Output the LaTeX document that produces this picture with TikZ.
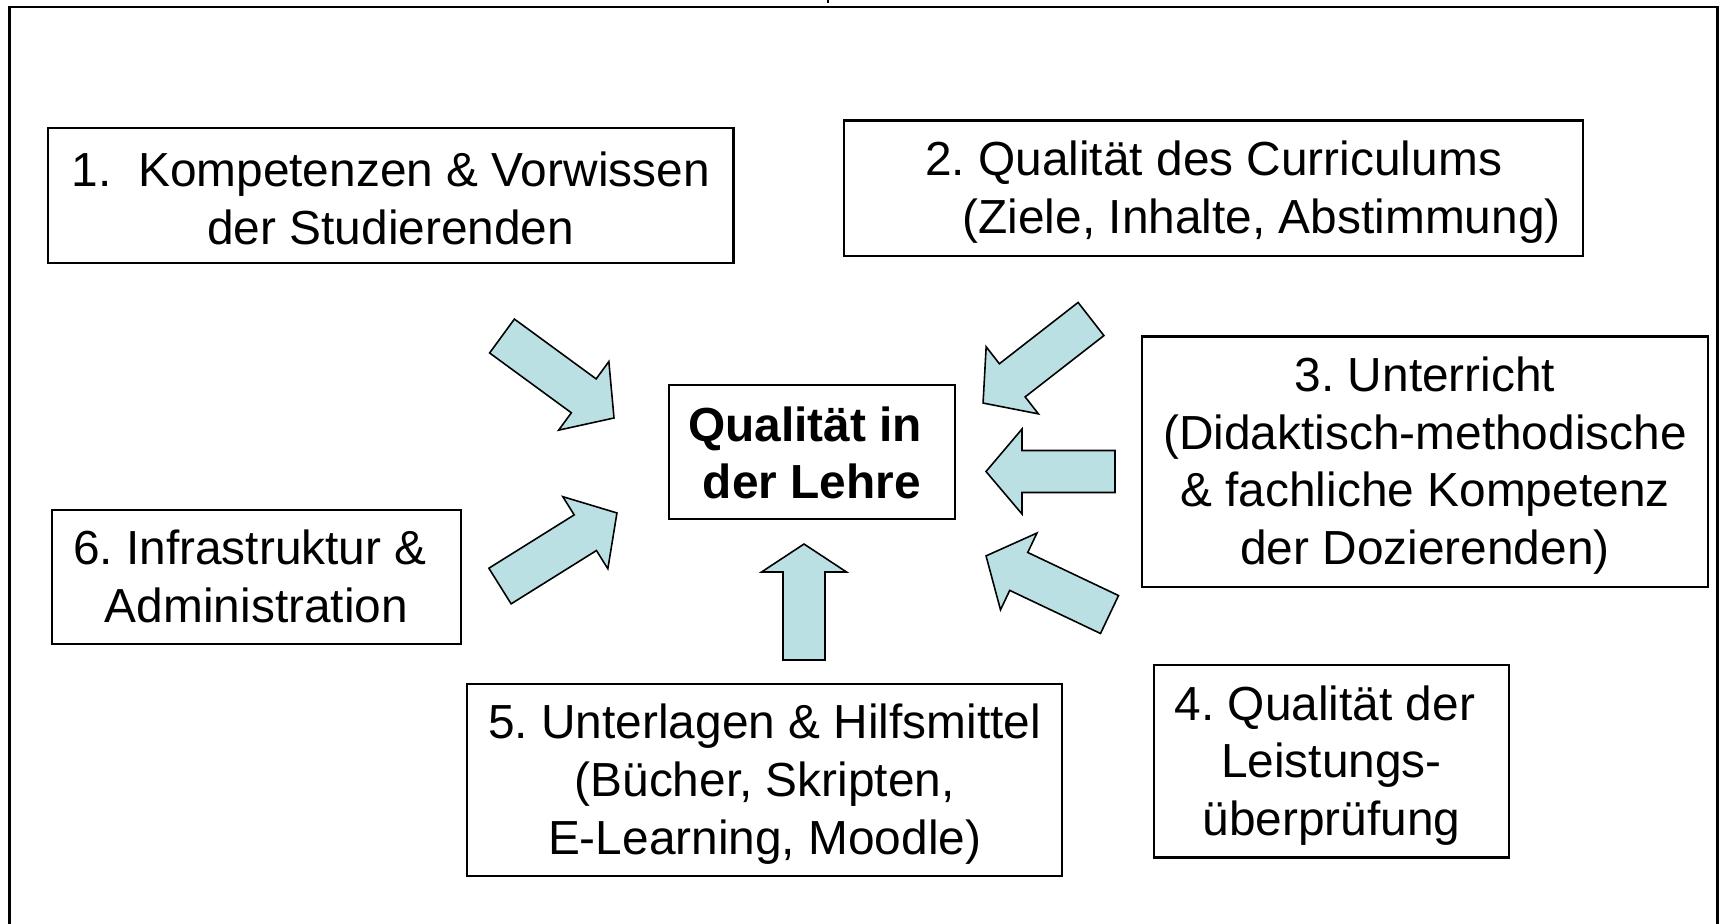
\documentclass[tikz,border=0pt]{standalone}
\usepackage{fontspec}
\setmainfont{Liberation Sans}
\usepackage{tikz}
\frenchspacing
\definecolor{arrowfill}{HTML}{BBE0E3}
\tikzset{box/.style = {draw, line width=0.6pt, rectangle, align=center, inner sep=0pt, font=\fontsize{13.6}{16.4}\selectfont},
         barrow/.style = {draw, line width=0.45pt, fill=arrowfill, line join=miter}}
% block arrow: tail x, tail y, angle, length, head length
\newcommand{\blockarrow}[5]{%
  \draw[barrow, shift={(#1,#2)}, rotate=#3](0,-21)--(#4-#5,-21)--(#4-#5,-42.5)--(#4,0)--(#4-#5,42.5)--(#4-#5,21)--(0,21)--cycle;}
\newcommand{\topstrut}[1]{\rule{0pt}{#1}}
\newcommand{\tsp}{\hspace*{0.278em}}

\begin{document}
\begin{tikzpicture}[x=0.01cm, y=-0.01cm]
    \useasboundingbox(0,0)rectangle(1719,923);
    \draw[line width=0.8pt](9.5,930)--(9.5,7)--(1717.5,7)--(1717.5,930);
    \draw[line width=0.3pt](828,0)--(828,3);
    % boxes
    \node[box, minimum width=2.86cm, minimum height=1.34cm, font=\fontsize{13.6}{16.4}\selectfont\bfseries](q)at(811.8,451.7){\topstrut{10.6pt}Qualität in\tsp\\ der Lehre};
    \node[box, minimum width=6.85cm, minimum height=1.35cm](k)at(390.8,195.7){\topstrut{11.2pt}1.\hspace{0.55em}Kompetenzen \& Vorwissen\\der Studierenden};
    \node[box, minimum width=7.39cm, minimum height=1.35cm](c)at(1213.6,188){\topstrut{12.1pt}2. Qualität des Curriculums\\\hspace*{0.96cm}(Ziele, Inhalte, Abstimmung)};
    \node[box, minimum width=5.66cm, minimum height=2.50cm](u)at(1425,461.5){\topstrut{12.1pt}3. Unterricht\\(Didaktisch-methodische\\\& fachliche Kompetenz\\der Dozierenden)};
    \node[box, minimum width=3.54cm, minimum height=1.92cm](l)at(1331.5,761.4){\topstrut{12.1pt}4. Qualität der\tsp\\Leistungs-\\überprüfung};
    \node[box, minimum width=5.95cm, minimum height=1.92cm](h)at(764.7,780){\topstrut{12.1pt}5. Unterlagen \& Hilfsmittel\\(Bücher, Skripten,\\E-Learning, Moodle)};
    \node[box, minimum width=4.08cm, minimum height=1.34cm](i)at(256.5,576.7){6. Infrastruktur \&\tsp\\Administration};
    % arrows
    \blockarrow{502}{336}{-36.2}{138.8}{37.5}
    \blockarrow{1091}{319}{-142.1}{136.8}{37}
    \blockarrow{1115}{471.5}{180}{129}{36}
    \blockarrow{1109.5}{614.5}{154.6}{136.7}{36.2}
    \blockarrow{804}{660}{90}{116}{28}
    \blockarrow{500}{586}{32}{137.9}{37.3}
\end{tikzpicture}
\end{document}
